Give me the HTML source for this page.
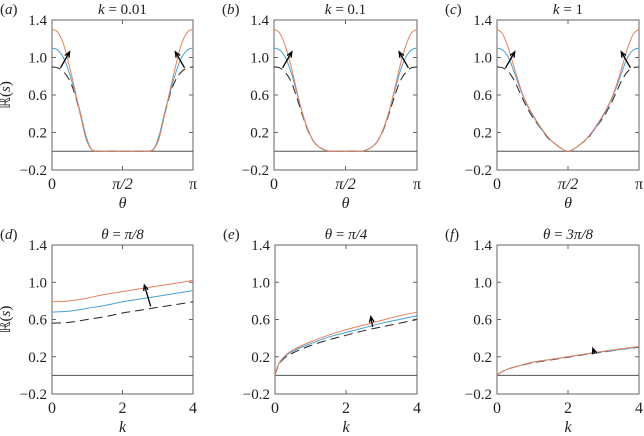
<!DOCTYPE html>
<html><head><meta charset="utf-8"><style>
html,body{margin:0;padding:0;background:#fff;}
svg{display:block;font-family:"Liberation Serif",serif;}
</style></head><body>
<svg id="fig" width="644" height="436" viewBox="0 0 644 436" xmlns="http://www.w3.org/2000/svg"></svg>
<script>
// ---- data ----
const thetaFrac = [0,0.04,0.08,0.12,0.16,0.2,0.24,0.28,0.32,0.36,0.4,0.5];
const aOrange = [1.3,1.27,1.15,0.93,0.67,0.40,0.14,0.02,0,0,0,0];
const aBlue   = [1.1,1.08,1.0,0.85,0.64,0.42,0.17,0.02,0,0,0,0];
const aDash   = [0.9,0.89,0.85,0.77,0.62,0.40,0.15,0.02,0,0,0,0];
const bOrange = [1.3,1.26,1.12,0.90,0.64,0.40,0.22,0.10,0.04,0.01,0,0];
const bBlue   = [1.1,1.08,1.0,0.84,0.62,0.40,0.22,0.10,0.04,0.01,0,0];
const bDash   = [0.9,0.89,0.84,0.74,0.57,0.38,0.21,0.10,0.04,0.01,0,0];
const cOrange = [1.3,1.25,1.10,0.90,0.70,0.54,0.42,0.32,0.23,0.15,0.09,0];
const cBlue   = [1.1,1.08,1.0,0.85,0.68,0.53,0.41,0.31,0.22,0.15,0.09,0];
const cDash   = [0.9,0.89,0.85,0.76,0.63,0.50,0.39,0.30,0.22,0.14,0.09,0];
const kD = [0,0.5,1,1.5,2,2.5,3,3.5,4];
const dOrange = [0.79,0.80,0.83,0.87,0.90,0.93,0.96,0.99,1.02];
const dBlue   = [0.68,0.69,0.72,0.75,0.79,0.82,0.85,0.88,0.91];
const dDash   = [0.56,0.57,0.60,0.63,0.67,0.70,0.73,0.76,0.79];
const kE = [0,0.1,0.25,0.5,1,1.5,2,2.5,3,3.5,4];
const eOrange = [0,0.12,0.20,0.27,0.36,0.43,0.49,0.54,0.59,0.64,0.68];
const eBlue   = [0,0.12,0.19,0.26,0.34,0.41,0.46,0.51,0.56,0.60,0.64];
const eDash   = [0,0.11,0.18,0.24,0.32,0.38,0.43,0.48,0.52,0.56,0.60];
const fOrange = [0,0.03,0.06,0.09,0.14,0.17,0.20,0.23,0.26,0.285,0.31];
const fBlue   = [0,0.03,0.06,0.09,0.14,0.17,0.20,0.23,0.255,0.28,0.305];
const fDash   = [0,0.03,0.06,0.09,0.135,0.165,0.195,0.225,0.25,0.28,0.30];
const yTicks = [-0.2,0.2,0.6,1.0,1.4];
const yTickLabels = ["\u22120.2","0.2","0.6","1.0","1.4"];
const thetaTickLabels = ["0","\u03c0/2","\u03c0"];
const kTicks = [0,2,4];
const kTickLabels = ["0","2","4"];

const NS="http://www.w3.org/2000/svg";
const svg=document.getElementById('fig');
function mk(tag,attrs,parent){const e=document.createElementNS(NS,tag);for(const k in attrs)e.setAttribute(k,attrs[k]);(parent||svg).appendChild(e);return e;}
const ORANGE="#e5805c", BLUE="#4b9fd3", DARK="#222";

function smoothPath(p){
  // monotone-ish Catmull-Rom with clamped y to avoid overshoot
  let d=`M${p[0][0].toFixed(1)},${p[0][1].toFixed(1)}`;
  for(let i=0;i<p.length-1;i++){
    const p0=p[i-1]||p[i],p1=p[i],p2=p[i+1],p3=p[i+2]||p[i+1];
    let c1=[p1[0]+(p2[0]-p0[0])/6,p1[1]+(p2[1]-p0[1])/6];
    let c2=[p2[0]-(p3[0]-p1[0])/6,p2[1]-(p3[1]-p1[1])/6];
    const lo=Math.min(p1[1],p2[1]),hi=Math.max(p1[1],p2[1]);
    c1[1]=Math.max(lo,Math.min(hi,c1[1]));c2[1]=Math.max(lo,Math.min(hi,c2[1]));
    d+=`C${c1[0].toFixed(1)},${c1[1].toFixed(1)} ${c2[0].toFixed(1)},${c2[1].toFixed(1)} ${p2[0].toFixed(1)},${p2[1].toFixed(1)}`;
  }
  return d;
}

function panel(o){
  const g=mk('g',{});
  
  
  const sx=v=>o.x0+(v-o.xmin)/(o.xmax-o.xmin)*(o.x1-o.x0);
  const sy=v=>o.y1-(v+0.2)/1.6*(o.y1-o.y0);
  const frame=mk('rect',{x:o.x0,y:o.y0,width:o.x1-o.x0,height:o.y1-o.y0,fill:'none',stroke:'#666','stroke-width':1},g);
  
  
  yTicks.forEach((t,i)=>{
    const y=sy(t);
    mk('line',{x1:o.x0,x2:o.x0+4,y1:y,y2:y,stroke:'#666'},g);
    mk('line',{x1:o.x1,x2:o.x1-4,y1:y,y2:y,stroke:'#666'},g);
    const tx=mk('text',{x:o.x0-5,y:y+5,'text-anchor':'end','font-size':15,fill:'#222'},g);
    tx.textContent=yTickLabels[i];
    
    
  });
  o.xt.forEach((t,i)=>{
    const x=sx(t);
    mk('line',{x1:x,x2:x,y1:o.y1,y2:o.y1-4,stroke:'#666'},g);
    mk('line',{x1:x,x2:x,y1:o.y0,y2:o.y0+4,stroke:'#666'},g);
    const tx=mk('text',{x:x,y:o.y1+19,'text-anchor':'middle','font-size':16,fill:'#222','font-style':i==1&&o.theta?'italic':'normal'},g);
    tx.textContent=o.xl[i];
    
    
  });
  const zl=mk('line',{x1:o.x0,x2:o.x1,y1:sy(0),y2:sy(0),stroke:'#555','stroke-width':1},g);
  
  
  o.series.forEach(s=>{
    let pts;
    if(o.theta){
      const L=s.v.map((v,i)=>[sx(thetaFrac[i]*Math.PI),sy(v)]);
      const R=s.v.map((v,i)=>[sx((1-thetaFrac[i])*Math.PI),sy(v)]).reverse();
      pts=L.concat(R.slice(1));
    } else pts=s.v.map((v,i)=>[sx(o.xs[i]),sy(v)]);
    const p=mk('path',{d:smoothPath(pts),fill:'none',stroke:s.c,'stroke-width':1,'stroke-dasharray':s.d||'none','stroke-linejoin':'round'},g);
    
    
  });
  o.arrows.forEach(a=>{
    const x1=sx(a[0]),y1=sy(a[1]),x2=sx(a[2]),y2=sy(a[3]);
    const ang=Math.atan2(y2-y1,x2-x1),h=6;
    const ar=mk('path',{d:`M${x1},${y1}L${x2},${y2}M${x2-h*Math.cos(ang-0.4)},${y2-h*Math.sin(ang-0.4)}L${x2},${y2}L${x2-h*Math.cos(ang+0.4)},${y2-h*Math.sin(ang+0.4)}`,stroke:'#000','stroke-width':1.3,fill:'none'},g);
    
    
  });
  const ti=mk('text',{x:(o.x0+o.x1)/2,y:o.y0-6,'text-anchor':'middle','font-size':15,fill:'#222'},g);
  ti.innerHTML=o.title;
  
  
  const pl=mk('text',{x:o.x0-52,y:o.y0-6,'font-size':15,fill:'#222'},g);
  pl.innerHTML='(<tspan font-style="italic">'+o.id+'</tspan>)';
  
  
  const xl=mk('text',{x:(o.x0+o.x1)/2,y:o.y1+38,'text-anchor':'middle','font-size':16,'font-style':'italic',fill:'#222'},g);
  xl.textContent=o.theta?'\u03b8':'k';
  
  
  if(o.ylab){
    const yl=mk('text',{x:0,y:0,'text-anchor':'middle','font-size':15,fill:'#222',transform:`translate(${o.x0-42},${(o.y0+o.y1)/2}) rotate(-90)`},g);
    yl.innerHTML='\u211d(<tspan font-style="italic">s</tspan>)';
    
    
  }
}
const P=Math.PI;
const tops=[[52,193,'a','<tspan font-style="italic">k</tspan> = 0.01',aOrange,aBlue,aDash],
            [274,417,'b','<tspan font-style="italic">k</tspan> = 0.1',bOrange,bBlue,bDash],
            [497,639,'c','<tspan font-style="italic">k</tspan> = 1',cOrange,cBlue,cDash]];
tops.forEach((t,i)=>panel({id:t[2],x0:t[0],x1:t[1],y0:20,y1:170,xmin:0,xmax:P,theta:true,xt:[0,P/2,P],xl:thetaTickLabels,
  title:t[3],ylab:i==0,
  series:[{v:t[6],c:DARK,d:'9,5',name:'series-dashed'},{v:t[5],c:BLUE,name:'series-blue'},{v:t[4],c:ORANGE,name:'series-orange'}],
  arrows:[[0.06*P,0.89,0.125*P,1.06],[0.94*P,0.89,0.875*P,1.06]]}));
const bots=[[52,193,'d','\u03b8 = \u03c0/8',kD,dOrange,dBlue,dDash,[2.8,0.74,2.62,0.97]],
            [275,417,'e','\u03b8 = \u03c0/4',kE,eOrange,eBlue,eDash,[2.75,0.52,2.7,0.63]],
            [497,639,'f','\u03b8 = 3\u03c0/8',kE,fOrange,fBlue,fDash,[2.75,0.235,2.7,0.29]]];
bots.forEach((t,i)=>panel({id:t[2],x0:t[0],x1:t[1],y0:245,y1:394,xmin:0,xmax:4,theta:false,xs:t[4],xt:kTicks,xl:kTickLabels,
  title:'<tspan font-style="italic">'+t[3].split(' ')[0]+'</tspan> = <tspan font-style="italic">'+t[3].split('= ')[1]+'</tspan>',ylab:i==0,
  series:[{v:t[7],c:DARK,d:'9,5',name:'series-dashed'},{v:t[6],c:BLUE,name:'series-blue'},{v:t[5],c:ORANGE,name:'series-orange'}],
  arrows:[t[8]]}));
</script>
</body></html>
